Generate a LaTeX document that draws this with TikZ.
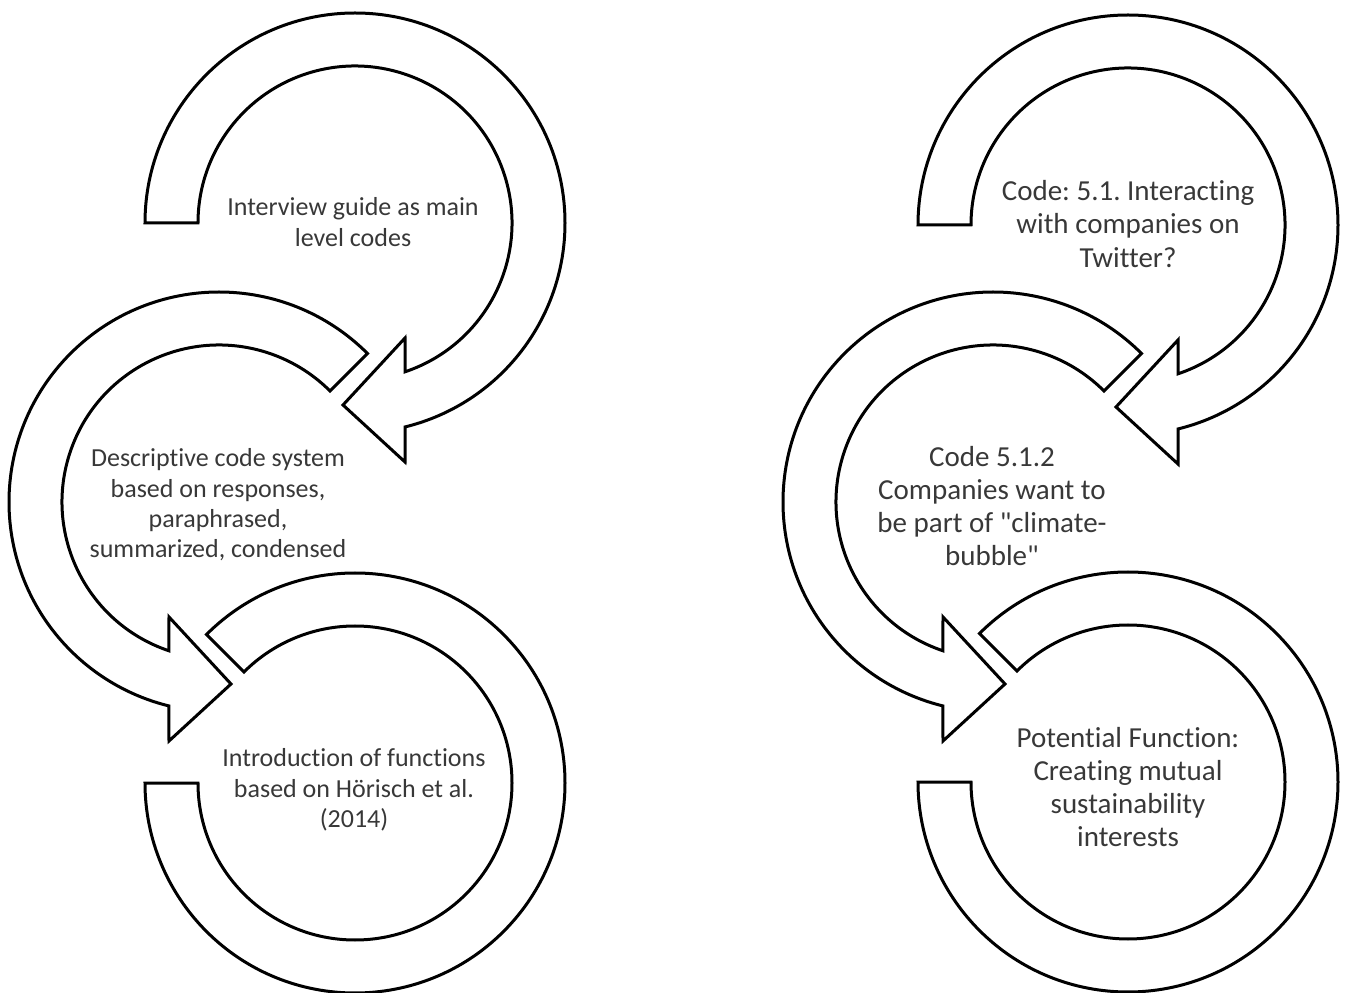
\documentclass[tikz,border=0pt]{standalone}
\usepackage{fontspec}
\setmainfont{Carlito}[Ligatures={NoCommon}]
\usepackage{tikz}
\usetikzlibrary{positioning,calc}
\frenchspacing
\tikzset{
ring/.style = {draw=black, fill=white, line width=1.5pt, line join=miter},
ringtext/.style = {align=center, text=black!78, font=\fontsize{13}{15.2}\selectfont},
bigtext/.style = {ringtext, font=\fontsize{14.5}{16.6}\selectfont},
% first arrow: open end at the left, head at the bottom
first ring/.pic = {
  \draw[ring] (180:210) arc[start angle=180, end angle=-76.2, radius=210]
    -- (50,-239) -- (-12,-182) -- (50,-115) -- (-71.4:157)
    arc[start angle=-71.4, end angle=180, radius=157] -- cycle;
},
% middle arrow: tail at the upper right, head at the bottom
middle ring/.pic = {
  \draw[ring] (45:210) arc[start angle=45, end angle=256.2, radius=210]
    -- (-50,-239) -- (12,-182) -- (-50,-115) -- (251.4:157)
    arc[start angle=251.4, end angle=45, radius=157] -- cycle;
},
% last ring: no head
last ring/.pic = {
  \draw[ring] (135:210) arc[start angle=135, end angle=-180, radius=210]
    -- (180:157) arc[start angle=-180, end angle=135, radius=157] -- cycle;
}
}
% straight double quote, past the tex-text mapping
\newcommand{\dq}{\XeTeXglyph\XeTeXcharglyph34\relax}
\begin{document}
\begin{tikzpicture}[x=0.5pt, y=0.5pt]
    \useasboundingbox (0,0) rectangle (1345,992);
    % left process
    \pic (ringA) at (355,769) {first ring};
    \pic (ringB) at (219,490) {middle ring};
    \pic (ringC) at (355,209) {last ring};
    \node[ringtext] (guide) at (353,770) {Interview guide as main\\level codes};
    \node[ringtext] (descr) at (218,487) {Descriptive code system\\based on responses,\\paraphrased,\\summarized, condensed};
    \node[ringtext] (funcs) at (354,202) {Introduction of functions\\based on H\"orisch et al.\\(2014)};
    % right process
    \pic (ringD) at (1128,767) {first ring};
    \pic (ringE) at (993,490) {middle ring};
    \pic (ringF) at (1128,210) {last ring};
    \node[bigtext] (code1) at (1128,768) {Code: 5.1. Interacting\\with companies on\\Twitter?};
    \node[bigtext] (code2) at (992,486) {Code 5.1.2\\Companies want to\\be part of \dq climate-\\bubble\dq};
    \node[bigtext] (potfn) at (1128,205) {Potential Function:\\Creating mutual\\sustainability\\interests};
\end{tikzpicture}
\end{document}
